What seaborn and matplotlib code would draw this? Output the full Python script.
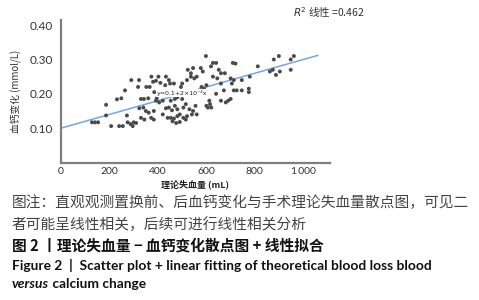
import matplotlib
matplotlib.use("Agg")
import matplotlib.pyplot as plt
import seaborn as sns
import pandas as pd
import numpy as np

# ---- data ----
blood_loss = [128, 140, 153, 186, 186, 207, 240, 231, 249, 264, 272, 255, 275, 287, 296, 300, 290, 322, 318, 330,
              342, 330, 344, 323, 340, 310,
              352, 366, 373, 402, 380, 392, 410, 385, 405, 395, 360, 350, 362, 383, 372, 383, 392, 405, 420, 433,
              445, 430, 450, 466, 453, 440, 453, 470, 480, 433, 445, 458, 470, 480, 420, 440, 453, 466, 480, 490,
              460, 475, 490, 500, 495, 505, 500, 515,
              523, 536, 545, 536, 550, 520, 560, 530, 545, 555, 540, 520, 515, 505, 560, 577, 585, 598, 580, 590,
              600, 606, 615, 600, 620, 612, 627, 640, 619, 627, 645, 651, 660, 676, 672, 660, 640, 660, 680, 690,
              700, 709, 720, 713, 700, 713, 725, 705,
              746, 779, 746, 775, 775, 812, 878, 899, 874, 862, 903, 887, 948, 961, 948]
calcium_change = [0.117, 0.117, 0.117, 0.168, 0.137, 0.106, 0.106, 0.184, 0.187, 0.210, 0.137, 0.106, 0.117, 0.112,
                  0.106, 0.117, 0.240, 0.240, 0.220, 0.185, 0.185, 0.130, 0.125, 0.158, 0.160, 0.115,
                  0.220, 0.220, 0.250, 0.250, 0.235, 0.238, 0.232, 0.205, 0.205, 0.187, 0.187, 0.150, 0.145, 0.150,
                  0.130, 0.125, 0.180, 0.175, 0.180, 0.250, 0.240, 0.225, 0.230, 0.230, 0.200, 0.205, 0.180, 0.185,
                  0.190, 0.158, 0.160, 0.152, 0.165, 0.155, 0.140, 0.130, 0.130, 0.128, 0.135, 0.140, 0.120, 0.115,
                  0.118, 0.230, 0.220, 0.160, 0.185, 0.170,
                  0.270, 0.260, 0.275, 0.250, 0.245, 0.240, 0.250, 0.155, 0.150, 0.165, 0.140, 0.135, 0.125, 0.130,
                  0.140, 0.275, 0.265, 0.310, 0.220, 0.215, 0.225, 0.160, 0.170, 0.165, 0.160, 0.180, 0.290, 0.290,
                  0.280, 0.250, 0.245, 0.270, 0.260, 0.260, 0.210, 0.230, 0.200, 0.180, 0.175, 0.180, 0.185, 0.290,
                  0.288, 0.240, 0.245, 0.210, 0.210, 0.230,
                  0.240, 0.250, 0.210, 0.215, 0.205, 0.280, 0.300, 0.310, 0.270, 0.265, 0.265, 0.255, 0.300, 0.310,
                  0.270]
fit_intercept = 0.1
fit_slope = 2e-4
fit_x = [0, 1060]
r_squared = 0.462
x_ticks = [0, 200, 400, 600, 800, 1000]
x_tick_labels = ["0", "200", "400", "600", "800", "1\u2009000"]
y_ticks = [0.10, 0.20, 0.30, 0.40]
y_tick_labels = ["0.10", "0.20", "0.30", "0.40"]
x_label = "理论失血量 (mL)"
y_label = "血钙变化 (mmol/L)"
equation_text = "y=0.1+2×10⁻⁴x"
caption_note_1 = "图注：直观观测置换前、后血钙变化与手术理论失血量散点图，可见二"
caption_note_2 = "者可能呈线性相关，后续可进行线性相关分析"
caption_cn = "图 2 丨理论失血量 − 血钙变化散点图 + 线性拟合"
caption_en_1 = "Figure 2  |  Scatter plot + linear fitting of theoretical blood loss blood"
caption_en_2a = "versus"
caption_en_2b = " calcium change"

df = pd.DataFrame({"x": blood_loss, "y": calcium_change})
fit_df = pd.DataFrame({"x": fit_x, "y": [fit_intercept + fit_slope * v for v in fit_x]})

sns.set_theme(style="white")
plt.rcParams["font.family"] = ["Noto Sans CJK SC", "DejaVu Sans"]

W, H = 479, 300
fig = plt.figure(figsize=(W / 100, H / 100), dpi=100)
ax = fig.add_axes([61 / W, 1 - 162.5 / H, (330 - 61) / W, (162.5 - 20) / H])

sns.lineplot(data=fit_df, x="x", y="y", ax=ax, color="#6fa8e8", lw=1.1, zorder=1)
sns.scatterplot(data=df, x="x", y="y", ax=ax, color="#4a4a4a", s=8, edgecolor="none", zorder=2)

ax.set_xlim(0, 1110)
ax.set_ylim(0, 0.415)
ax.set_xticks(x_ticks)
ax.set_xticklabels(x_tick_labels, family=["Lato", "DejaVu Sans"], fontsize=7.5, color="#333333")
ax.set_yticks(y_ticks)
ax.set_yticklabels(y_tick_labels, family=["Lato", "DejaVu Sans"], fontsize=8.5, color="#333333")
ax.tick_params(axis="both", length=0, pad=3)
ax.tick_params(axis="y", pad=6)
for s in ["top", "right"]:
    ax.spines[s].set_visible(False)
for s in ["left", "bottom"]:
    ax.spines[s].set_color("#7f7f7f")
    ax.spines[s].set_linewidth(1.6)
ax.set_xlabel(x_label, fontsize=6.5, fontweight="bold", color="#222222", labelpad=3)
ax.set_ylabel(y_label, fontsize=7, color="#333333", labelpad=5)

ax.text(499, 0.203, equation_text, fontsize=4.5, ha="center", va="center", color="#222222",
        family=["DejaVu Sans"], bbox=dict(facecolor="white", edgecolor="none", pad=0.6), zorder=3)

fig.text(293 / W, 1 - 13 / H, "$\\it{R}^2$ 线性 =" + f"{r_squared:.3f}", fontsize=7.5, ha="left", va="center",
         color="#333333")

fig.text(12 / W, 1 - 203 / H, caption_note_1, fontsize=10.6, ha="left", va="center", color="#444444")
fig.text(12 / W, 1 - 225 / H, caption_note_2, fontsize=10.6, ha="left", va="center", color="#444444")
fig.text(12 / W, 1 - 246 / H, caption_cn, fontsize=10.6, ha="left", va="center", color="#111111",
         fontweight="bold")
fig.text(12 / W, 1 - 265 / H, caption_en_1, fontsize=9.9, ha="left", va="center", color="#111111",
         fontweight="bold", family=["Lato", "DejaVu Sans"])
t1 = fig.text(12 / W, 1 - 284 / H, caption_en_2a, fontsize=9.9, ha="left", va="center", color="#111111",
              fontweight="bold", style="italic", family=["Lato", "DejaVu Sans"])
fig.canvas.draw()
bb = t1.get_window_extent()
fig.text(bb.x1 / W, 1 - 284 / H, caption_en_2b, fontsize=9.9, ha="left", va="center", color="#111111",
         fontweight="bold", family=["Lato", "DejaVu Sans"])

fig.savefig("out.png", dpi=100)
